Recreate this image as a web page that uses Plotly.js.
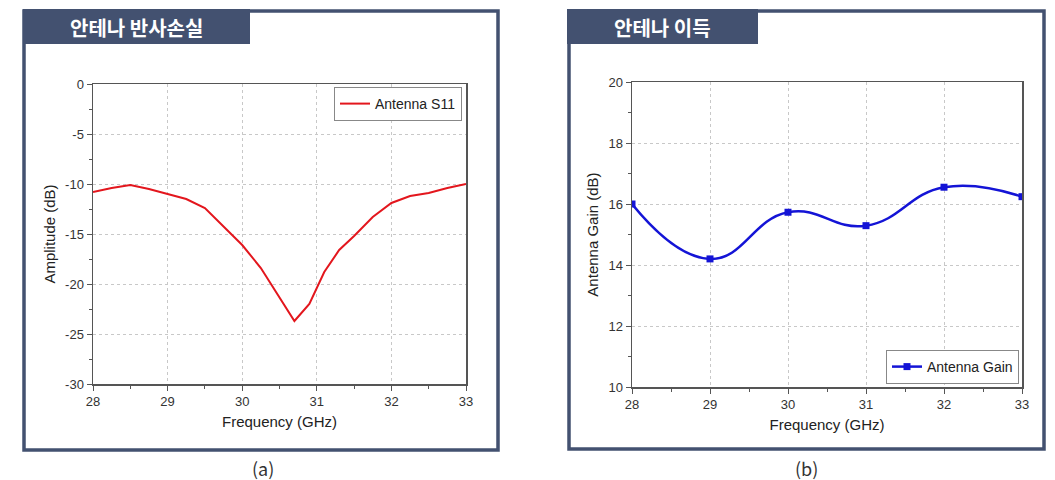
<!DOCTYPE html>
<html>
<head>
<meta charset="utf-8">
<script src="https://cdn.plot.ly/plotly-3.0.1.min.js"></script>
<style>
  html, body { margin: 0; padding: 0; background: #fff; }
  #chart { width: 1055px; height: 480px; }
</style>
</head>
<body>
<div id="chart"></div>
<script>
// (a) return loss
const freqS11 = [28, 28.25, 28.5, 28.75, 29, 29.25, 29.5, 29.75, 30, 30.25, 30.5, 30.7, 30.9, 31.1, 31.3, 31.5, 31.75, 32, 32.25, 32.5, 32.75, 33];
const s11 = [-10.8, -10.4, -10.1, -10.5, -11.0, -11.5, -12.4, -14.3, -16.1, -18.4, -21.4, -23.7, -22.0, -18.8, -16.6, -15.2, -13.3, -11.9, -11.2, -10.9, -10.4, -10.0];
const s11Ticks = [0, -5, -10, -15, -20, -25, -30];
const s11TickText = ["0", "-5", "-10", "-15", "-20", "-25", "-30"];

// (b) gain
const freqGain = [28, 29, 30, 31, 32, 33];
const gain = [16.0, 14.2, 15.73, 15.29, 16.55, 16.24];

const panelTitles = ["안테나 반사손실", "안테나 이득"];
const captions = ["(a)", "(b)"];

const W = 1055, H = 480;
const px = v => v / W;
const py = v => 1 - v / H;

const navy = "#435170";
const axisColor = "#555";
const tickFont = {family: "Liberation Sans, Arial, sans-serif", size: 13, color: "#333"};
const titleFont = {family: "Liberation Sans, Arial, sans-serif", size: 15, color: "#222"};

function axisBase(extra) {
  return Object.assign({
    showline: true, linecolor: axisColor, linewidth: 1.5, mirror: true,
    ticks: "outside", ticklen: 5, tickwidth: 1, tickcolor: axisColor,
    showgrid: true, gridcolor: "#c8c8c8", griddash: "dot", gridwidth: 1,
    zeroline: false, tickfont: tickFont
  }, extra);
}

const traces = [
  {x: freqS11, y: s11, type: "scatter", mode: "lines", name: "Antenna S11",
   line: {color: "#e3161d", width: 2}, xaxis: "x", yaxis: "y", legend: "legend", showlegend: true},
  {x: freqGain, y: gain, type: "scatter", mode: "lines+markers", name: "Antenna Gain",
   line: {color: "#1414d6", width: 2.5, shape: "spline", smoothing: 1.3},
   marker: {symbol: "square", size: 7, color: "#1414d6"},
   xaxis: "x2", yaxis: "y2", legend: "legend2", showlegend: true}
];

const legendFont = {family: "Liberation Sans, Arial, sans-serif", size: 14, color: "#222"};
const headFont = {family: "Noto Sans CJK KR", size: 20, color: "#fff", weight: "bold"};
const capFont = {family: "Noto Sans CJK KR", size: 18, color: "#333"};

const layout = {
  width: W, height: H,
  margin: {l: 0, r: 0, t: 0, b: 0},
  paper_bgcolor: "#fff", plot_bgcolor: "#fff",
  showlegend: true,
  xaxis: axisBase({domain: [px(93), px(466)], range: [28, 33], dtick: 1,
    minor: {dtick: 0.5, ticks: "outside", ticklen: 3, tickcolor: axisColor, showgrid: false},
    title: {text: "Frequency (GHz)", font: titleFont, standoff: 8}, anchor: "y"}),
  yaxis: axisBase({domain: [py(384), py(84)], range: [-30, 0], tickmode: "array",
    tickvals: s11Ticks, ticktext: s11TickText,
    minor: {dtick: 2.5, ticks: "outside", ticklen: 3, tickcolor: axisColor, showgrid: false},
    title: {text: "Amplitude (dB)", font: titleFont, standoff: 6}, anchor: "x"}),
  xaxis2: axisBase({domain: [px(632), px(1022)], range: [28, 33], dtick: 1,
    minor: {dtick: 0.5, ticks: "outside", ticklen: 3, tickcolor: axisColor, showgrid: false},
    title: {text: "Frequency (GHz)", font: titleFont, standoff: 8}, anchor: "y2"}),
  yaxis2: axisBase({domain: [py(387), py(82)], range: [10, 20], dtick: 2,
    minor: {dtick: 1, ticks: "outside", ticklen: 3, tickcolor: axisColor, showgrid: false},
    title: {text: "Antenna Gain (dB)", font: titleFont, standoff: 6}, anchor: "x2"}),
  legend: {x: px(462), y: py(87), xanchor: "right", yanchor: "top",
    bordercolor: "#888", borderwidth: 1, bgcolor: "#fff", font: legendFont},
  legend2: {x: px(1019), y: py(384), xanchor: "right", yanchor: "bottom",
    bordercolor: "#888", borderwidth: 1, bgcolor: "#fff", font: legendFont},
  shapes: [
    {type: "rect", xref: "paper", yref: "paper", x0: px(24), x1: px(498), y0: py(450), y1: py(11),
     line: {color: navy, width: 3.5}, fillcolor: "rgba(0,0,0,0)", layer: "below"},
    {type: "rect", xref: "paper", yref: "paper", x0: px(569), x1: px(1044), y0: py(449), y1: py(11),
     line: {color: navy, width: 3.5}, fillcolor: "rgba(0,0,0,0)", layer: "below"},
    {type: "rect", xref: "paper", yref: "paper", x0: px(23), x1: px(250), y0: py(44), y1: py(9),
     line: {width: 0}, fillcolor: navy, layer: "below"},
    {type: "rect", xref: "paper", yref: "paper", x0: px(567), x1: px(758), y0: py(44), y1: py(9),
     line: {width: 0}, fillcolor: navy, layer: "below"}
  ],
  annotations: [
    {text: panelTitles[0], xref: "paper", yref: "paper", x: px(136), y: py(27),
     xanchor: "center", yanchor: "middle", showarrow: false, font: headFont},
    {text: panelTitles[1], xref: "paper", yref: "paper", x: px(662), y: py(27),
     xanchor: "center", yanchor: "middle", showarrow: false, font: headFont},
    {text: captions[0], xref: "paper", yref: "paper", x: px(263), y: py(468),
     xanchor: "center", yanchor: "middle", showarrow: false, font: capFont},
    {text: captions[1], xref: "paper", yref: "paper", x: px(806), y: py(468),
     xanchor: "center", yanchor: "middle", showarrow: false, font: capFont}
  ]
};

Plotly.newPlot("chart", traces, layout, {displayModeBar: false, staticPlot: true});
</script>
</body>
</html>
